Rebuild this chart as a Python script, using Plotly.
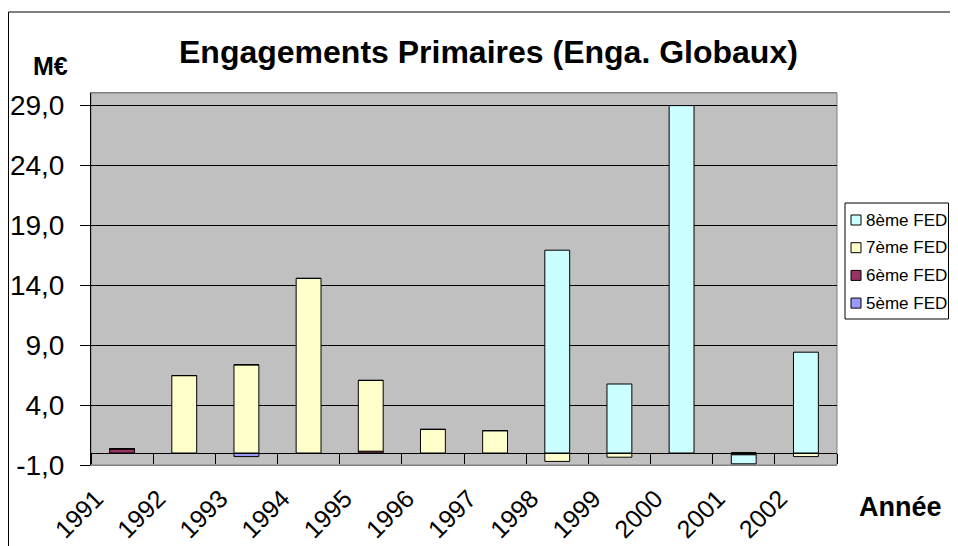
import plotly.graph_objects as go

# values (M€)
years = ['1991', '1992', '1993', '1994', '1995', '1996', '1997', '1998', '1999', '2000', '2001', '2002']
fed5 = [0, 0, -0.3, 0, 0, 0, 0, 0, 0, 0, 0, 0]
fed6 = [0.35, 0, 0, 0, 0.15, 0, 0, 0, 0, 0, -0.15, 0]
fed7 = [0, 6.45, 7.35, 14.55, 5.9, 1.97, 1.86, -0.7, -0.35, 0, 0, -0.3]
fed8 = [0, 0, 0, 0, 0, 0, 0, 16.9, 5.75, 28.95, -0.75, 8.4]

y_ticks = [-1, 4, 9, 14, 19, 24, 29]
y_min, y_max = -1, 30

series = [
    ('5ème FED', fed5, '#9999FF'),
    ('6ème FED', fed6, '#993366'),
    ('7ème FED', fed7, '#FFFFCC'),
    ('8ème FED', fed8, '#CCFFFF'),
]

font = 'Liberation Sans, Arial, sans-serif'

# page body has an 8px margin, so the figure is shrunk and everything shifted
OFF = 8
W, H = 958 - 2 * OFF, 546 - OFF
# plot area in page pixels
L, R, T, B = 91, 837, 93, 465


def px_x(x):
    return (x - L) / (R - L)


def px_y(y):
    return (B - y) / (B - T)


fig = go.Figure()
for name, vals, col in series:
    fig.add_trace(go.Bar(
        x=years, y=vals, name=name,
        marker=dict(color=col, line=dict(color='black', width=1)),
    ))

# invisible trace to carry the zero-level category axis
fig.add_trace(go.Scatter(x=years, y=[0] * len(years), xaxis='x2', mode='markers',
                         marker=dict(opacity=0), showlegend=False, hoverinfo='skip'))

shapes = [
    dict(type='rect', xref='paper', yref='paper', x0=0, x1=1, y0=0, y1=1,
         line=dict(color='#808080', width=1), layer='below'),
    # chart border
    dict(type='rect', xref='paper', yref='paper', x0=px_x(8.5), x1=px_x(1100), y0=px_y(700), y1=px_y(12),
         line=dict(color='black', width=1)),
    # legend box
    dict(type='rect', xref='paper', yref='paper', x0=px_x(845), x1=px_x(948.5), y0=px_y(319), y1=px_y(203),
         line=dict(color='black', width=1), fillcolor='white'),
]
annotations = [
    dict(text='<b>Engagements Primaires (Enga. Globaux)</b>', xref='paper', yref='paper',
         x=px_x(488), y=px_y(52), xanchor='center', yanchor='middle',
         showarrow=False, font=dict(size=32)),
    dict(text='<b>M€</b>', xref='paper', yref='paper',
         x=px_x(50), y=px_y(66), xanchor='center', yanchor='middle',
         showarrow=False, font=dict(size=25)),
    dict(text='<b>Année</b>', xref='paper', yref='paper',
         x=px_x(900), y=px_y(507), xanchor='center', yanchor='middle',
         showarrow=False, font=dict(size=27)),
]

# legend, top entry is the last series
for i, (name, vals, col) in enumerate(reversed(series)):
    yc = 220 + i * 27.7
    shapes.append(dict(type='rect', xref='paper', yref='paper',
                       x0=px_x(851), x1=px_x(861), y0=px_y(yc + 5), y1=px_y(yc - 5),
                       fillcolor=col, line=dict(color='black', width=1)))
    annotations.append(dict(text=name, xref='paper', yref='paper', x=px_x(864), y=px_y(yc),
                            xanchor='left', yanchor='middle', showarrow=False,
                            font=dict(size=17)))

fig.update_layout(
    width=W, height=H,
    margin=dict(l=L - OFF, r=W - (R - OFF), t=T - OFF, b=H - (B - OFF), autoexpand=False),
    barmode='relative',
    bargap=0.6,
    plot_bgcolor='#C0C0C0',
    paper_bgcolor='white',
    font=dict(family=font, color='black'),
    showlegend=False,
    xaxis=dict(
        type='category', categoryarray=years, range=[-0.5, 11.5],
        tickangle=-45, tickfont=dict(size=25), automargin=False,
        ticklabelshift=-26, ticklabelstandoff=8,
        showline=True, linecolor='#808080', mirror=True,
        ticks='', showgrid=False,
    ),
    xaxis2=dict(
        type='category', categoryarray=years, range=[-0.5, 11.5],
        overlaying='x', anchor='free', side='bottom',
        position=(0 - y_min) / (y_max - y_min),
        showline=True, linecolor='black', linewidth=1,
        ticks='outside', tickson='boundaries', ticklen=10, tickcolor='black',
        showticklabels=False, showgrid=False, automargin=False,
    ),
    yaxis=dict(
        range=[y_min, y_max],
        tickvals=y_ticks,
        ticktext=[f'{v:.1f}'.replace('.', ',') for v in y_ticks],
        tickfont=dict(size=28), automargin=False, ticklabelstandoff=10,
        showgrid=True, gridcolor='black', gridwidth=1,
        zeroline=False,
        showline=True, linecolor='black',
        ticks='outside', ticklen=10, tickcolor='black',
    ),
    shapes=shapes,
    annotations=annotations,
)

fig.write_html('out.html')
